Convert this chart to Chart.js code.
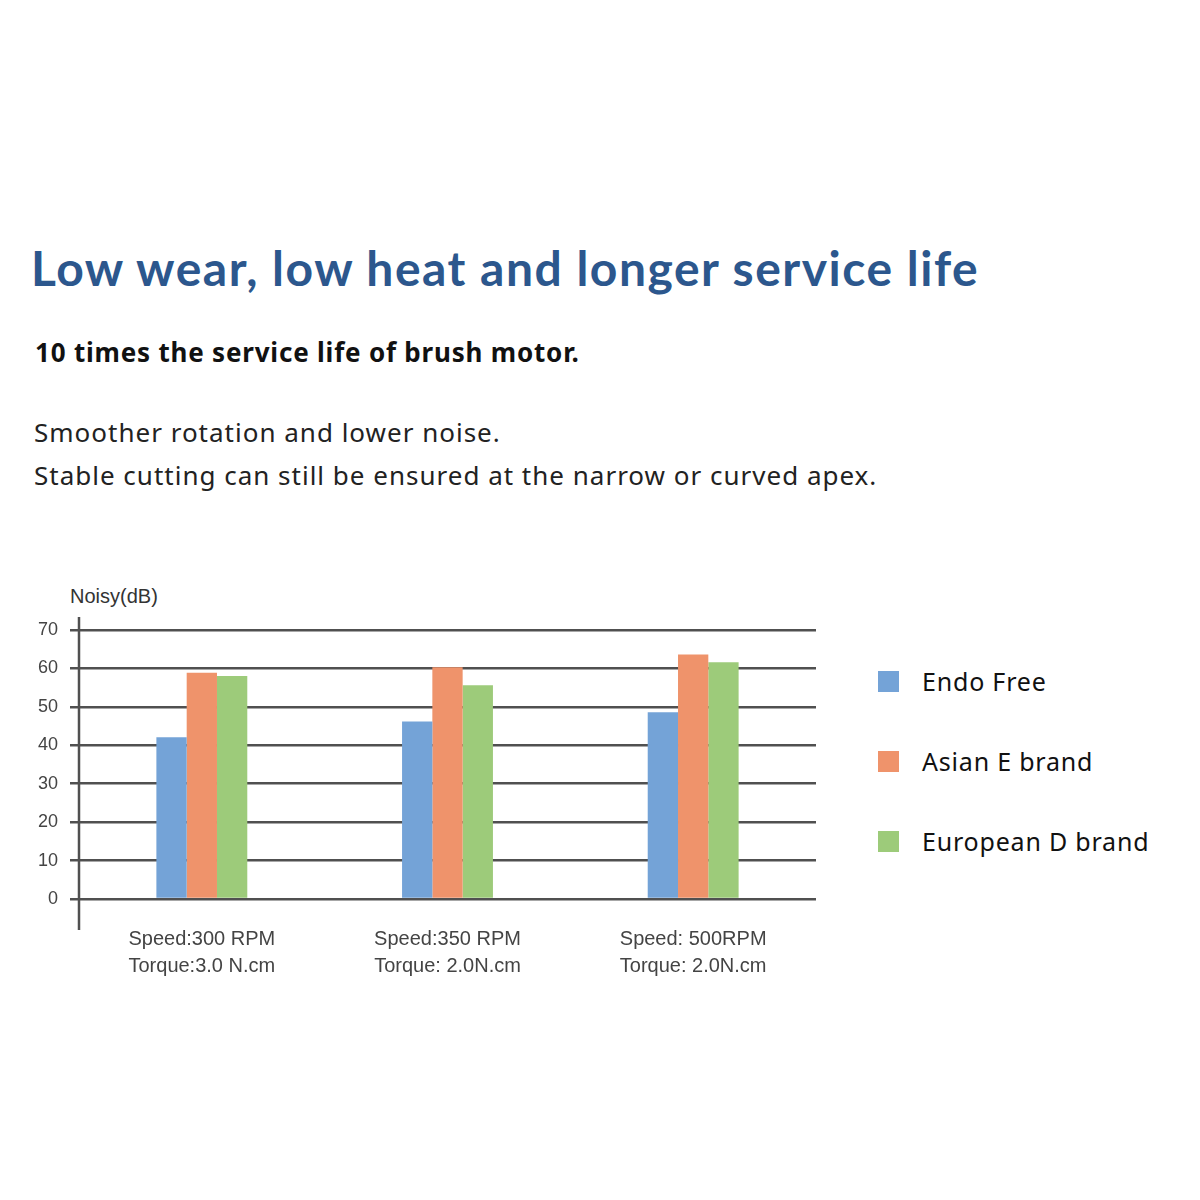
<!DOCTYPE html>
<html>
<head>
<meta charset="utf-8">
<script src="https://cdn.jsdelivr.net/npm/chart.js@4.4.1/dist/chart.umd.min.js"></script>
<style>
  html, body { margin: 0; padding: 0; background: #ffffff; }
  body { width: 1200px; height: 1200px; position: relative; overflow: hidden; }
  .t { position: absolute; white-space: nowrap; line-height: 1; }
  #title { left: 31px; top: 244px; font-family: Lato, "Noto Sans", sans-serif; font-weight: 700; font-size: 48px; letter-spacing: 1.5px; color: #2c578d; }
  #sub { left: 35px; top: 339px; font-family: "Noto Sans", sans-serif; font-weight: 700; font-size: 26px; letter-spacing: 0.8px; color: #111; }
  #b1 { left: 34px; top: 419px; font-family: "Noto Sans", sans-serif; font-size: 26px; letter-spacing: 1px; color: #222; }
  #b2 { left: 34px; top: 462px; font-family: "Noto Sans", sans-serif; font-size: 26px; letter-spacing: 1px; color: #222; }
  #ytitle { left: 70px; top: 586px; font-family: "Liberation Sans", Arial, sans-serif; font-size: 20px; color: #333; }
  #wrap { position: absolute; left: 0; top: 580px; width: 860px; height: 420px; }
  #legend { position: absolute; left: 878px; top: 660px; font-family: "Noto Sans", sans-serif; font-size: 25px; letter-spacing: 0.8px; color: #111; }
  .li { display: flex; align-items: center; height: 42px; margin-bottom: 38px; }
  .sw { width: 21px; height: 21px; margin-right: 23px; }
</style>
</head>
<body>
<div class="t" id="title">Low wear, low heat and longer service life</div>
<div class="t" id="sub">10 times the service life of brush motor.</div>
<div class="t" id="b1">Smoother rotation and lower noise.</div>
<div class="t" id="b2">Stable cutting can still be ensured at the narrow or curved apex.</div>
<div class="t" id="ytitle">Noisy(dB)</div>
<div id="wrap"><canvas id="c" width="860" height="420"></canvas></div>
<div id="legend"></div>
<script>
// ---- data ----
const categories = [
  ["Speed:300 RPM", "Torque:3.0 N.cm"],
  ["Speed:350 RPM", "Torque: 2.0N.cm"],
  ["Speed: 500RPM", "Torque: 2.0N.cm"]
];
const seriesNames = ["Endo Free", "Asian E brand", "European D brand"];
const endoFree  = [42.1, 46.2, 48.6];
const asianE    = [58.9, 60.3, 63.6];
const europeanD = [58.0, 55.6, 61.6];
const yTicks = [0, 10, 20, 30, 40, 50, 60, 70];
const seriesColors = ["#74a3d7", "#ef936b", "#9dcb7a"];

const axisLinePlugin = {
  id: 'axisLine',
  afterDatasetsDraw(chart) {
    const { ctx, chartArea } = chart;
    ctx.save();
    ctx.strokeStyle = '#505050';
    ctx.lineWidth = 2.5;
    ctx.beginPath();
    ctx.moveTo(chartArea.left, chartArea.top - 13);
    ctx.lineTo(chartArea.left, chartArea.bottom + 31);
    ctx.stroke();
    ctx.restore();
  }
};

const chart = new Chart(document.getElementById('c'), {
  type: 'bar',
  data: {
    labels: categories,
    datasets: [endoFree, asianE, europeanD].map((d, i) => ({
      label: seriesNames[i],
      data: d,
      backgroundColor: seriesColors[i],
      borderWidth: 0,
      barPercentage: 1.0,
      categoryPercentage: 0.37
    }))
  },
  options: {
    responsive: false,
    animation: false,
    layout: { padding: { top: 50, right: 44, left: 0, bottom: 0 } },
    plugins: { legend: { display: false }, tooltip: { enabled: false } },
    scales: {
      x: {
        grid: { display: false, drawTicks: false },
        border: { display: false },
        ticks: {
          padding: 27,
          color: '#444',
          font: { family: 'Liberation Sans', size: 20, lineHeight: 1.35 },
          maxRotation: 0
        },
        afterFit(scale) { scale.height = 101; }
      },
      y: {
        min: 0, max: 70,
        afterBuildTicks(scale) { scale.ticks = yTicks.map(v => ({ value: v })); },
        grid: { color: '#505050', lineWidth: 2.5, tickLength: 9, drawTicks: true },
        border: { display: false },
        ticks: {
          padding: 12,
          color: '#444',
          font: { family: 'Liberation Sans', size: 18 }
        },
        afterFit(scale) { scale.width = 79; }
      }
    }
  },
  plugins: [axisLinePlugin]
});

// HTML legend built from the chart's datasets
const legend = document.getElementById('legend');
chart.data.datasets.forEach(ds => {
  const row = document.createElement('div');
  row.className = 'li';
  const sw = document.createElement('div');
  sw.className = 'sw';
  sw.style.background = ds.backgroundColor;
  const tx = document.createElement('span');
  tx.textContent = ds.label;
  row.appendChild(sw);
  row.appendChild(tx);
  legend.appendChild(row);
});
</script>
</body>
</html>
